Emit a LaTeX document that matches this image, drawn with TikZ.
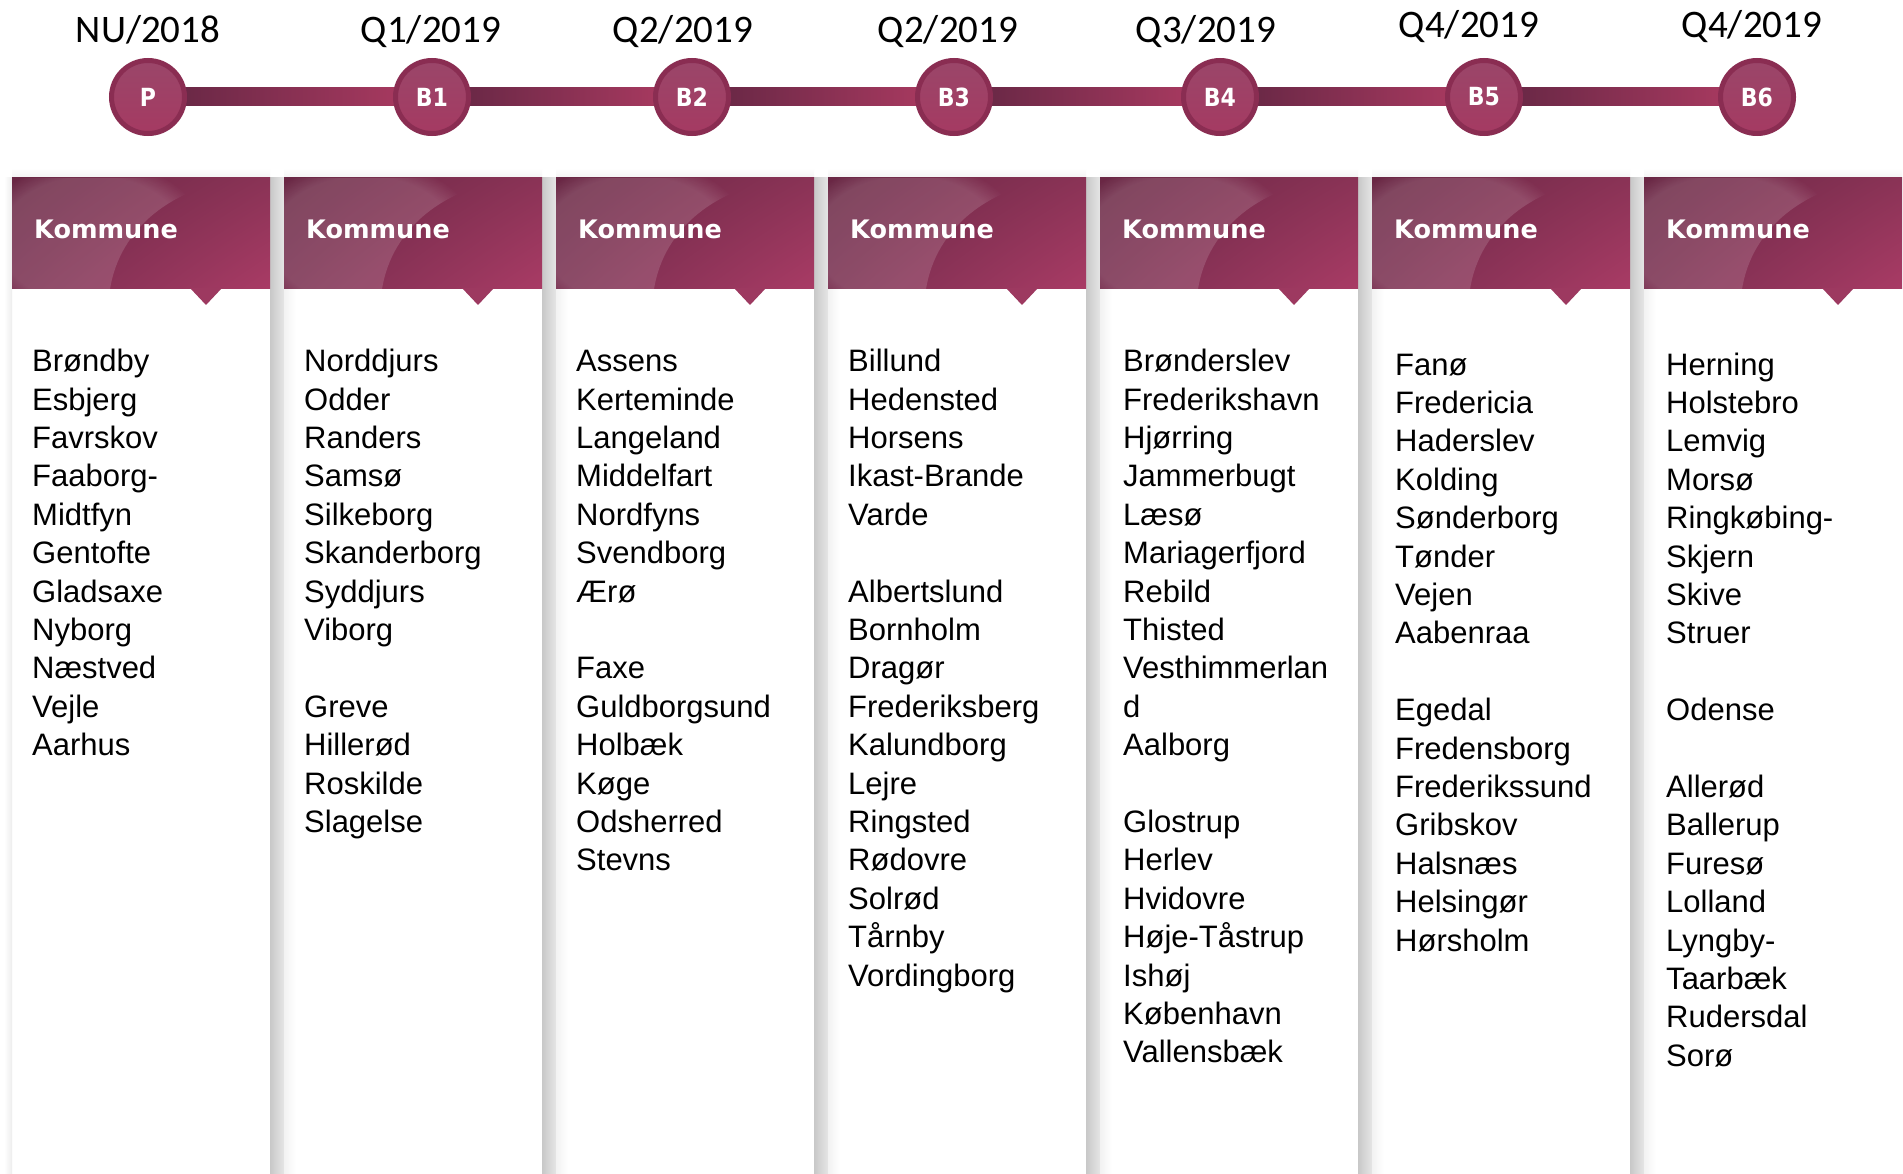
\documentclass[tikz,border=0pt]{standalone}
\usepackage{fontspec}
\newfontfamily\listfont{Liberation Sans}
\newfontfamily\headfont{DejaVu Sans}
\newfontfamily\circfont{DejaVu Sans}[FakeStretch=0.88]
\newfontfamily\datefont{Carlito}
\usetikzlibrary{shadows,fadings,calc,shadings}
\pgfdeclarelayer{bg}
\pgfsetlayers{bg,main}
\definecolor{hdark}{HTML}{692744}
\definecolor{hmid}{HTML}{8A3356}
\definecolor{hleft}{HTML}{782E4F}
\definecolor{hlight}{HTML}{A93B65}
\definecolor{mring}{HTML}{8A2D52}
\definecolor{ctop}{HTML}{9A4669}
\definecolor{cbot}{HTML}{A53A62}
\definecolor{bdark}{HTML}{6A2846}
\definecolor{blight}{HTML}{A6395F}
\definecolor{notchc}{HTML}{9D3960}
\begin{document}
\begin{tikzpicture}[x=1pt,y=-1pt,
  listtxt/.style={anchor=north west, inner sep=0pt, align=left, text=black,
    font=\listfont\fontsize{31}{38.4}\selectfont},
  headtxt/.style={anchor=base west, inner sep=0pt, text=white,
    font=\headfont\bfseries\fontsize{25.5}{30}\selectfont},
  datetxt/.style={anchor=base, inner sep=0pt, text=black,
    font=\datefont\fontsize{39}{45}\selectfont},
  mstone/.style={circle, minimum size=73pt, inner sep=0pt, draw=mring, line width=5pt,
    top color=ctop, bottom color=cbot, text=white,
    font=\circfont\bfseries\fontsize{25}{28}\selectfont,
    drop shadow={shadow xshift=0pt, shadow yshift=-2.5pt, opacity=0.3, fill=black!60}},
  barseg/.style={left color=bdark, right color=blight},
]
\useasboundingbox (0,0) rectangle (1903,1174);
\begin{pgfonlayer}{bg}
  \fill[white] (0,0) rectangle (1903,1174);
\end{pgfonlayer}

% --- column shadows ---
\shade[left color=white, right color=gray!14] (4,178) rectangle (12,1174);
\foreach \L in {12,284,556,828,1100,1372,1644}{
  \shade[top color=white, bottom color=gray!10] (\L,168) rectangle (\L+258,178);
}
\foreach \L in {12,284,556,828,1100,1372}{
  \shade[left color=gray!43, right color=gray!20] (\L+258,178) rectangle (\L+272,1174);
  \shade[left color=gray!10, right color=white] (\L+272,178) rectangle (\L+284,1174);
}

% --- headers ---
\foreach \L [count=\i] in {12,284,556,828,1100,1372,1644}{
  \shade[upper left=hdark, upper right=hmid, lower left=hleft, lower right=hlight]
    (\L,178) rectangle (\L+258,289);
  \begin{scope}
    \clip (\L,178) -- (\L+235,178) .. controls (\L+160,186) and (\L+108,228) .. (\L+98,289)
      -- (\L,289) -- cycle;
    \fill[white, opacity=0.14, path fading=circle with fuzzy edge 20 percent]
      (\L+80,240) ellipse [x radius=115pt, y radius=80pt];
  \end{scope}
  \fill[notchc] (\L+178,288) -- (\L+210,288) -- (\L+194,305) -- cycle;
  \node[headtxt] (h\i) at (\L+22,239) {Kommune};
}

% --- timeline ---
\node[mstone] (mP)  at (148,97)  {P};
\node[mstone] (mB1) at (432,97)  {B1};
\node[mstone] (mB2) at (692,97)  {B2};
\node[mstone] (mB3) at (954,97)  {B3};
\node[mstone] (mB4) at (1220,97) {B4};
\node[mstone] (mB5) at (1484,97) {B5};
\node[mstone] (mB6) at (1757,97) {B6};
\begin{pgfonlayer}{bg}
  \foreach \a/\b in {mP/mB1,mB1/mB2,mB2/mB3,mB3/mB4,mB4/mB5,mB5/mB6}{
    \shade[barseg] ($(\a.east)+(-6,-9)$) rectangle ($(\b.west)+(6,9)$);
  }
\end{pgfonlayer}

\node[datetxt] (d0) at (148,43)  {NU/2018};
\node[datetxt] (d1) at (431,43)  {Q1/2019};
\node[datetxt] (d2) at (683,43)  {Q2/2019};
\node[datetxt] (d3) at (948,43)  {Q2/2019};
\node[datetxt] (d4) at (1206,43) {Q3/2019};
\node[datetxt] (d5) at (1469,38) {Q4/2019};
\node[datetxt] (d6) at (1752,38) {Q4/2019};

% --- lists ---
\node[listtxt] (l1) at (32,344.6) {\strut Brøndby\\Esbjerg\\Favrskov\\Faaborg-\\Midtfyn\\Gentofte\\Gladsaxe\\Nyborg\\Næstved\\Vejle\\Aarhus};
\node[listtxt] (l2) at (304,344.6) {\strut Norddjurs\\Odder\\Randers\\Samsø\\Silkeborg\\Skanderborg\\Syddjurs\\Viborg\\[38.4pt]Greve\\Hillerød\\Roskilde\\Slagelse};
\node[listtxt] (l3) at (576,344.6) {\strut Assens\\Kerteminde\\Langeland\\Middelfart\\Nordfyns\\Svendborg\\Ærø\\[38.4pt]Faxe\\Guldborgsund\\Holbæk\\Køge\\Odsherred\\Stevns};
\node[listtxt] (l4) at (848,344.6) {\strut Billund\\Hedensted\\Horsens\\Ikast-Brande\\Varde\\[38.4pt]Albertslund\\Bornholm\\Dragør\\Frederiksberg\\Kalundborg\\Lejre\\Ringsted\\Rødovre\\Solrød\\Tårnby\\Vordingborg};
\node[listtxt] (l5) at (1123,344.6) {\strut Brønderslev\\Frederikshavn\\Hjørring\\Jammerbugt\\Læsø\\Mariagerfjord\\Rebild\\Thisted\\Vesthimmerlan\\d\\Aalborg\\[38.4pt]Glostrup\\Herlev\\Hvidovre\\Høje-Tåstrup\\Ishøj\\København\\Vallensbæk};
\node[listtxt] (l6) at (1395,348.1) {\strut Fanø\\Fredericia\\Haderslev\\Kolding\\Sønderborg\\Tønder\\Vejen\\Aabenraa\\[38.4pt]Egedal\\Fredensborg\\Frederikssund\\Gribskov\\Halsnæs\\Helsingør\\Hørsholm};
\node[listtxt] (l7) at (1666,348.1) {\strut Herning\\Holstebro\\Lemvig\\Morsø\\Ringkøbing-\\Skjern\\Skive\\Struer\\[38.4pt]Odense\\[38.4pt]Allerød\\Ballerup\\Furesø\\Lolland\\Lyngby-\\Taarbæk\\Rudersdal\\Sorø};
\end{tikzpicture}
\end{document}
